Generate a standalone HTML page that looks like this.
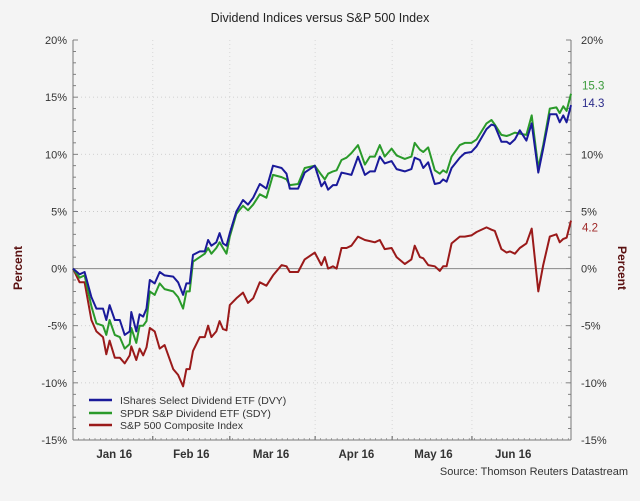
<!DOCTYPE html>
<html><head><meta charset="utf-8"><style>
body{margin:0;background:#f4f4f4;}
svg{display:block;font-family:"Liberation Sans",Arial,sans-serif;}
</style></head><body>
<svg id="chart" width="640" height="501" viewBox="0 0 640 501">
<rect x="0" y="0" width="640" height="501" fill="#f4f4f4"/>
<text x="320" y="22" text-anchor="middle" font-size="12.5" fill="#222">Dividend Indices versus S&amp;P 500 Index</text>
<g id="grid"></g><g id="axes"></g><g id="series"></g>
<text transform="translate(22,268) rotate(-90)" text-anchor="middle" font-size="12" font-weight="bold" fill="#5a1010">Percent</text>
<text transform="translate(618,268) rotate(90)" text-anchor="middle" font-size="12" font-weight="bold" fill="#5a1010">Percent</text>
<g>
<line x1="89" y1="400" x2="112" y2="400" stroke="#1a1a9a" stroke-width="2.5"/>
<text x="120" y="404" font-size="10.5" fill="#333">IShares Select Dividend ETF (DVY)</text>
<line x1="89" y1="413" x2="112" y2="413" stroke="#2a9a2a" stroke-width="2.5"/>
<text x="120" y="417" font-size="10.5" fill="#333">SPDR S&amp;P Dividend ETF (SDY)</text>
<line x1="89" y1="425" x2="112" y2="425" stroke="#9a1a1a" stroke-width="2.5"/>
<text x="120" y="429" font-size="10.5" fill="#333">S&amp;P 500 Composite Index</text>
</g>
<text x="628" y="475" text-anchor="end" font-size="11" fill="#333">Source: Thomson Reuters Datastream</text>
</svg>
<script>
const days=[0,2.4,4.2,6.7,8.5,10.9,12.1,13.3,15.2,17,18.8,20.6,21.2,23,24.2,25.5,26.7,27.9,29.7,31.5,33.3,36.4,38.2,40,41.2,42.4,43.6,46.1,47.9,49.1,50.3,52.1,53.3,54.5,55.8,57,59.4,61.8,63.6,65.5,67.9,70.3,72.7,75.8,77.6,78.8,81.8,84.2,87.9,90.3,91.5,92.7,94.5,95.8,97.6,99.4,101.2,103.6,106.1,107.9,109.7,111.5,113.3,115.8,117.6,120.6,123,124.2,126.1,127.3,129.1,131.5,133.3,134.5,135.8,137.6,140.6,142.4,144.8,146.7,150.3,152.1,153.3,155.7,157.6,158.8,160.6,162.4,164.8,166.7,169.1,170.9,173.3,175.7,176.9,178.2,179.4,181];
const dvy=[0,-0.5,-0.3,-2.5,-3.5,-3.5,-4.5,-3.2,-4.5,-4.5,-5.8,-5.5,-3.8,-5.5,-4,-4.2,-3.5,-1,-1.3,-0.3,-0.6,-0.7,-1.2,-2.3,-1.3,-1.3,1.2,1.5,1.5,2.5,2,2.3,3.1,2.2,2,3.1,5,6,5.6,6.2,7.4,7,9,8.8,8.3,7,7,8.4,9,7.2,7.6,6.9,7.3,7.3,8.4,8.3,8.2,9.8,8.2,8.5,8.5,9.8,9.2,9.4,8.7,8.5,8.7,9.7,9.5,8.8,9.3,7.4,7.5,7.8,7.6,8.8,9.7,10.1,10.2,10.7,12.2,12.6,12.5,11.1,11.1,10.9,11.3,12.1,11.2,12.7,8.4,10.5,13.5,13.5,12.8,13.4,12.8,14.3];
const sdy=[0,-0.8,-0.6,-3.3,-4.8,-5,-5.8,-4.5,-5.8,-6,-7,-6.6,-5.2,-6.5,-5,-5,-4.6,-2,-2.3,-1.3,-1.8,-2,-2.5,-3.5,-2,-2,0.6,1,1.3,1.8,1.3,1.8,2.3,1.8,1.3,2.8,4.8,5.5,5.1,5.6,6.5,6.2,8.2,8,7.8,7.3,7.4,8.8,9,8.2,7.8,8.3,8.5,8.6,9.5,9.7,10.1,10.8,9.1,9.8,9.8,10.8,9.8,10.5,9.9,9.6,9.8,11,10.4,10.2,10.6,8.6,8.3,8.6,8.4,9.8,10.8,11,11,11.3,12.7,13,12.6,11.7,11.6,11.7,11.9,11.8,11.7,13.4,8.8,10.8,14,14.1,13.6,14.2,13.8,15.3];
const spx=[0,-1.2,-1.2,-4.5,-5.5,-6,-7.5,-6.3,-7.8,-7.8,-8.3,-7.6,-6.8,-8,-7,-7.6,-6.9,-5.2,-5.5,-7,-6.7,-8.8,-9.3,-10.3,-8.8,-8.8,-7.2,-6,-6,-5,-6,-5.5,-4.6,-5.3,-5.4,-3.2,-2.6,-2.1,-3,-2.6,-1.2,-1.5,-0.6,0.3,0.2,-0.3,-0.3,0.8,1.4,0.3,1,0,0.2,0,1.8,1.8,2,2.8,2.5,2.4,2.3,2.5,1.7,1.8,1,0.4,0.8,2,1,0.9,0.3,0.2,-0.2,0.2,0.2,2.2,2.8,2.8,2.9,3.2,3.6,3.4,3.3,1.7,1.4,1.5,1.3,1.8,2.2,3.5,-2,0.3,2.8,3,2.3,2.6,2.7,4.2];
const yTicks=[20,15,10,5,0,-5,-10,-15];
const rightHidden=[15];
const monthLabels=["Jan 16","Feb 16","Mar 16","Apr 16","May 16","Jun 16"];
const monthMid=[15,43,72,103,131,160];
const monthStarts=[29,57,88,116,145];
const endLabels=[["15.3","#3a9a3a",16.0],["14.3","#2a2a8a",14.5],["4.2","#a02a2a",3.6]];

const X0=73,X1=571,Y0=40,Y1=440,DMAX=181,VMAX=20,VMIN=-15;
const xs=d=>X0+(d/DMAX)*(X1-X0);
const ys=v=>Y0+(VMAX-v)/(VMAX-VMIN)*(Y1-Y0);
const NS="http://www.w3.org/2000/svg";
function mk(tag,attrs,parent){const e=document.createElementNS(NS,tag);for(const k in attrs)e.setAttribute(k,attrs[k]);parent.appendChild(e);return e;}
const grid=document.getElementById('grid'),axes=document.getElementById('axes'),series=document.getElementById('series');

yTicks.forEach(v=>{
  if(v!==VMAX&&v!==VMIN&&v!==0){
    const g=mk('line',{x1:X0,x2:X1,y1:ys(v),y2:ys(v),stroke:'#c4c4c4','stroke-width':0.8,'stroke-dasharray':'1 3'},grid);
    
    
  }
  const l=mk('text',{x:67,y:ys(v)+4,'text-anchor':'end','font-size':11,fill:'#333'},axes);
  l.textContent=v+'%';
  
  
  if(rightHidden.indexOf(v)<0){
    const r=mk('text',{x:581,y:ys(v)+4,'text-anchor':'start','font-size':11,fill:'#333'},axes);
    r.textContent=v+'%';
    
    
  }
});
for(let v=VMIN;v<=VMAX;v++){
  const w=(v%5===0)?5:3;
  mk('line',{x1:X0,x2:X0+w,y1:ys(v),y2:ys(v),stroke:'#666','stroke-width':0.8},axes);
  mk('line',{x1:X1-w,x2:X1,y1:ys(v),y2:ys(v),stroke:'#666','stroke-width':0.8},axes);
}
monthStarts.forEach(d=>{
  const g=mk('line',{x1:xs(d),x2:xs(d),y1:Y0,y2:Y1,stroke:'#d0d0d0','stroke-width':0.8,'stroke-dasharray':'1 3'},grid);
  
  
  mk('line',{x1:xs(d),x2:xs(d),y1:Y1-4,y2:Y1,stroke:'#555','stroke-width':1},axes);
});
for(let d=0;d<=DMAX;d+=2){mk('line',{x1:xs(d),x2:xs(d),y1:Y1-2,y2:Y1,stroke:'#777','stroke-width':0.6},axes);}
monthLabels.forEach((m,i)=>{
  const t=mk('text',{x:xs(monthMid[i]),y:458,'text-anchor':'middle','font-size':11.5,'font-weight':'bold',fill:'#333'},axes);
  t.textContent=m;
  
  
});
const zl=mk('line',{x1:X0,x2:X1,y1:ys(0),y2:ys(0),stroke:'#888','stroke-width':1},axes);


const la=mk('line',{x1:X0,x2:X0,y1:Y0,y2:Y1,stroke:'#777','stroke-width':1},axes);


const ra=mk('line',{x1:X1,x2:X1,y1:Y0,y2:Y1,stroke:'#777','stroke-width':1},axes);


const xa=mk('line',{x1:X0,x2:X1,y1:Y1,y2:Y1,stroke:'#777','stroke-width':1},axes);



function drawLine(vals,color,name){
  const p=vals.map((v,i)=>(i?'L':'M')+xs(days[i]).toFixed(1)+' '+ys(v).toFixed(1)).join(' ');
  const e=mk('path',{d:p,fill:'none',stroke:color,'stroke-width':2,'stroke-linejoin':'round'},series);
  
  
}
drawLine(spx,'#9a1a1a','spx-line');
drawLine(sdy,'#2a9a2a','sdy-line');
drawLine(dvy,'#1a1a9a','dvy-line');
endLabels.forEach(l=>{
  const t=mk('text',{x:582,y:ys(l[2])+4,'font-size':11.5,fill:l[1]},series);
  t.textContent=l[0];
  
  
});
</script>
</body></html>
